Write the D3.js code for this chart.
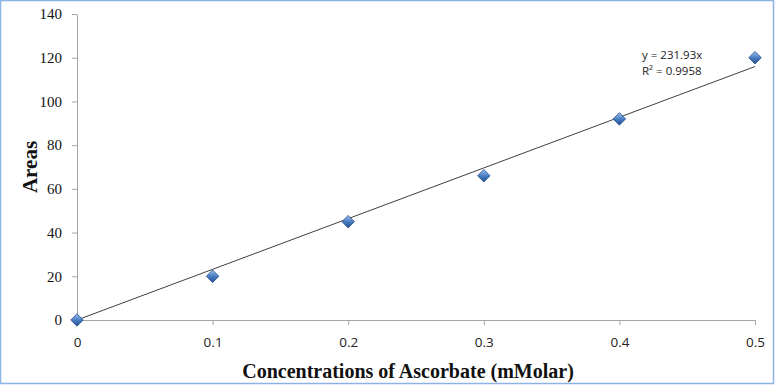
<!DOCTYPE html>
<html>
<head>
<meta charset="utf-8">
<script src="https://cdn.jsdelivr.net/npm/d3@7"></script>
<style>
    body { margin: 0; background: #fff; }
    svg { display: block; }
</style>
</head>
<body>
<div id="chart"></div>
<script>
// data
let concentrations = [0, 0.1, 0.2, 0.3, 0.4, 0.5];
let areas = [0, 20, 45, 66, 92, 120];
let slope = 231.93;
let rSquared = 0.9958;
let xTicks = [0, 0.1, 0.2, 0.3, 0.4, 0.5];
let yTicks = [0, 20, 40, 60, 80, 100, 120, 140];

let width = 775, height = 385;
let margin = {top: 14, right: 20, bottom: 65, left: 77};

let svg = d3.select("#chart").append("svg")
    .attr("width", width)
    .attr("height", height);

// outer frame
svg.append("rect")
    .attr("x", 0.5).attr("y", 0.5)
    .attr("width", width - 2).attr("height", height - 2)
    .attr("fill", "none")
    .attr("stroke", "#8db3e2")
    .attr("stroke-width", 1.5);

let x = d3.scaleLinear()
    .domain([0, 0.5])
    .range([margin.left, width - margin.right]);

let y = d3.scaleLinear()
    .domain([0, 140])
    .range([height - margin.bottom, margin.top]);

// gradient for the diamond markers
let defs = svg.append("defs");
let grad = defs.append("linearGradient")
    .attr("id", "markerGrad")
    .attr("x1", "0%").attr("y1", "0%")
    .attr("x2", "100%").attr("y2", "100%");
grad.append("stop").attr("offset", "0%").attr("stop-color", "#9cc3f0");
grad.append("stop").attr("offset", "50%").attr("stop-color", "#4a7fc4");
grad.append("stop").attr("offset", "100%").attr("stop-color", "#244f8f");

// y axis
let yAxis = svg.append("g")
    .attr("transform", `translate(${margin.left},0)`)
    .call(d3.axisLeft(y).tickValues(yTicks).tickSize(5).tickSizeOuter(0).tickPadding(10));
yAxis.select(".domain").attr("stroke", "#a6a6a6");
yAxis.selectAll(".tick line").attr("stroke", "#a6a6a6");
yAxis.selectAll("text")
    .attr("font-family", "'Liberation Serif', 'Times New Roman', serif")
    .attr("font-size", 15)
    .attr("fill", "#111");

// x axis
let xAxis = svg.append("g")
    .attr("transform", `translate(0,${y(0)})`)
    .call(d3.axisBottom(x).tickValues(xTicks).tickFormat(d => d3.format("")(d)).tickSize(5).tickSizeOuter(0).tickPadding(12));
xAxis.select(".domain").attr("stroke", "#a6a6a6");
xAxis.selectAll(".tick line").attr("stroke", "#a6a6a6");
xAxis.selectAll("text")
    .attr("font-family", "'Open Sans', 'Noto Sans', sans-serif")
    .attr("font-size", 13.5)
    .attr("fill", "#222");

// trend line y = slope * x
svg.append("line")
    .attr("x1", x(0)).attr("y1", y(0))
    .attr("x2", x(0.5)).attr("y2", y(slope * 0.5))
    .attr("stroke", "#404040")
    .attr("stroke-width", 1);

// points
svg.selectAll(".pt")
    .data(concentrations)
    .enter().append("path")
    .attr("class", "pt")
    .attr("d", d3.symbol().type(d3.symbolSquare).size(78))
    .attr("transform", (d, i) => `translate(${x(d)},${y(areas[i])}) rotate(45)`)
    .attr("fill", "url(#markerGrad)")
    .attr("stroke", "#2a528c")
    .attr("stroke-width", 0.8);

// equation label
let eq = svg.append("text")
    .attr("x", 642)
    .attr("font-family", "'Open Sans', 'Noto Sans', sans-serif")
    .attr("font-size", 11.5)
    .attr("fill", "#222");
eq.append("tspan").attr("x", 642).attr("y", 59).text(`y = ${slope}x`);
eq.append("tspan").attr("x", 642).attr("y", 75).text(`R² = ${rSquared}`);

// axis titles
svg.append("text")
    .attr("transform", `translate(37,${(y(0) + y(140)) / 2}) rotate(-90)`)
    .attr("text-anchor", "middle")
    .attr("font-family", "'Liberation Serif', 'Times New Roman', serif")
    .attr("font-weight", "bold")
    .attr("font-size", 21)
    .attr("fill", "#111")
    .text("Areas");

svg.append("text")
    .attr("x", 408)
    .attr("y", 378)
    .attr("text-anchor", "middle")
    .attr("font-family", "'Liberation Serif', 'Times New Roman', serif")
    .attr("font-weight", "bold")
    .attr("font-size", 20)
    .attr("fill", "#111")
    .text("Concentrations of Ascorbate (mMolar)");
</script>
</body>
</html>
